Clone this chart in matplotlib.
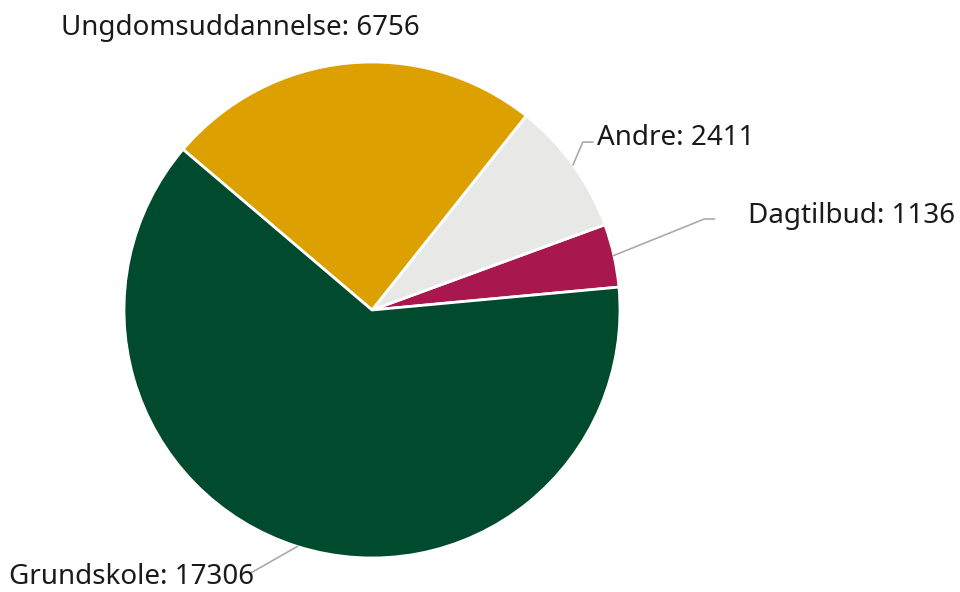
import matplotlib.pyplot as plt
import numpy as np

categories = ['Dagtilbud', 'Andre', 'Ungdomsuddannelse', 'Grundskole']
values = [1136, 2411, 6756, 17306]
colors = ['#a8184e', '#e8e8e6', '#dca000', '#004b2e']

# label anchor (left edge, baseline) and connector elbow, in pie units
label_pos = {
    'Dagtilbud': (1.515, 0.351),
    'Andre': (0.906, 0.665),
    'Ungdomsuddannelse': (-1.255, 1.109),
    'Grundskole': (-1.465, -1.105),
}
elbows = {
    'Dagtilbud': [(1.34, 0.367), (1.38, 0.367)],
    'Andre': [(0.85, 0.677), (0.89, 0.677)],
    'Grundskole': [(-0.49, -1.061)],
}

W, H = 960, 592
cx, cy, R = 372, 282, 248

fig = plt.figure(figsize=(W / 100, H / 100), dpi=100)
ax = fig.add_axes([0, 0, 1, 1])

start = 5.3
wedges, _ = ax.pie(values, colors=colors, startangle=start, counterclock=True,
                   radius=1, center=(0, 0), frame=True,
                   wedgeprops={'edgecolor': 'white', 'linewidth': 2})
ax.set_xlim(-cx / R, (W - cx) / R)
ax.set_ylim(-cy / R, (H - cy) / R)
ax.set_aspect('equal')
ax.axis('off')

for w, name, v in zip(wedges, categories, values):
    mid = np.deg2rad((w.theta1 + w.theta2) / 2)
    p0 = (np.cos(mid), np.sin(mid))
    if name in elbows:
        pts = [p0] + elbows[name]
        xs, ys = zip(*pts)
        ax.plot(xs, ys, color='#aaaaaa', lw=1.2, zorder=1)
    lx, ly = label_pos[name]
    ax.text(lx, ly, f'{name}: {v}', ha='left', va='baseline', fontsize=20,
            family='Noto Sans', color='#1a1a1a', zorder=3)

plt.savefig('out.png', dpi=100)
plt.close()
